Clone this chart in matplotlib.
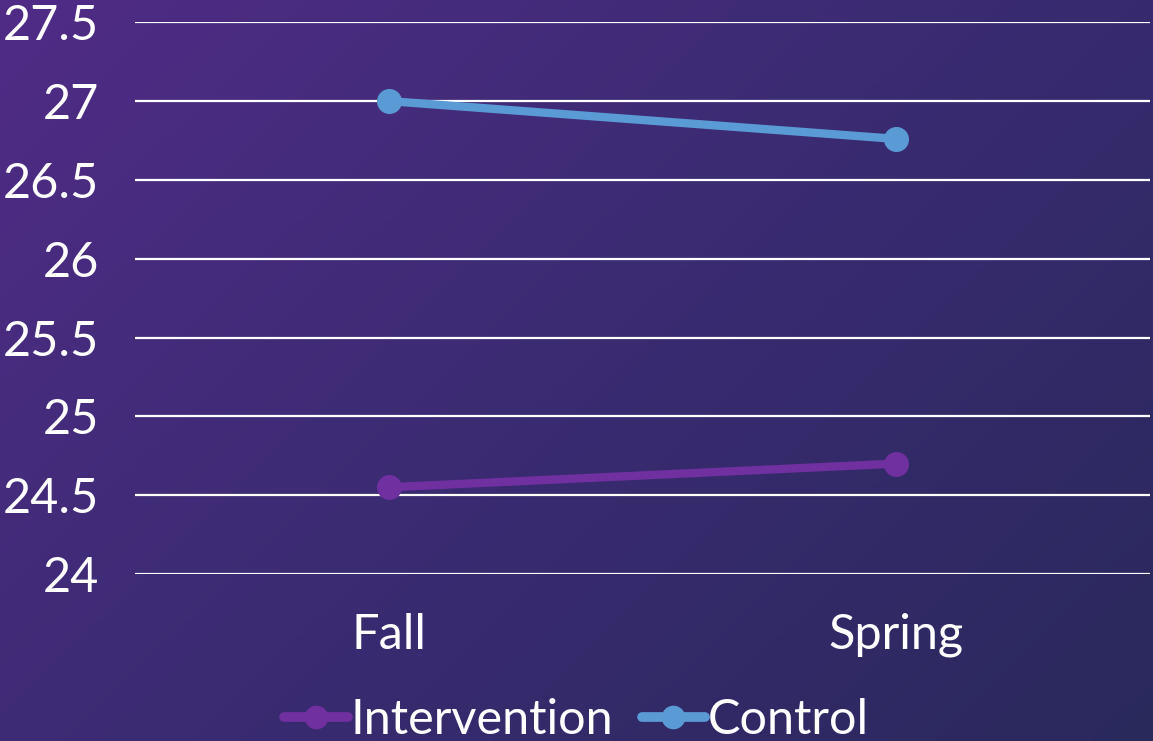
import numpy as np
import matplotlib.pyplot as plt
from matplotlib.colors import LinearSegmentedColormap

seasons = ["Fall", "Spring"]
intervention = [24.55, 24.70]
control = [27.00, 26.76]
yticks = [24, 24.5, 25, 25.5, 26, 26.5, 27, 27.5]

plt.rcParams['font.family'] = ['Lato', 'DejaVu Sans']

fig = plt.figure(figsize=(11.53, 7.41), dpi=100)

# gradient background
bg = fig.add_axes([0, 0, 1, 1], zorder=0)
gx, gy = np.meshgrid(np.linspace(0, 1, 300), np.linspace(0, 1, 200))
g = (gx * 0.6 + gy * 0.4)
cmap = LinearSegmentedColormap.from_list("bg", ["#502c86", "#3a2b72", "#2a295c"])
bg.imshow(g, cmap=cmap, aspect="auto", extent=[0, 1, 0, 1], origin="upper")
bg.axis("off")

ax = fig.add_axes([0.117, 0.2254, 0.88, 0.7446], zorder=1)
ax.set_facecolor("none")
x = np.arange(len(seasons))
ax.plot(x, intervention, color="#7030a0", lw=6, marker="o", markersize=17,
        label="Intervention", solid_capstyle="round", zorder=3)
ax.plot(x, control, color="#5b9bd5", lw=6, marker="o", markersize=17,
        label="Control", solid_capstyle="round", zorder=3)

ax.set_xlim(-0.5, 1.5)
ax.set_ylim(24, 27.5)
ax.set_yticks(yticks)
ax.set_yticklabels([f"{v:g}" for v in yticks])
ax.set_xticks(x)
ax.set_xticklabels(seasons)
ax.grid(axis="y", color="white", lw=1.6)
ax.set_axisbelow(True)
for s in ax.spines.values():
    s.set_visible(False)
ax.tick_params(colors="white", labelsize=35, length=0)
ax.tick_params(axis="x", pad=28)
ax.tick_params(axis="y", pad=26)
for lbl in ax.get_yticklabels() + ax.get_xticklabels():
    lbl.set_color("white")

leg = fig.legend(loc="center", bbox_to_anchor=(0.5, 0.028), ncol=2, frameon=False,
                 fontsize=35, handlelength=1.3, handletextpad=0.05, columnspacing=0.6,
                 labelcolor="white")
for h in leg.legend_handles:
    h.set_markersize(16)
    h.set_linewidth(7)

fig.savefig("out.png", dpi=100)
